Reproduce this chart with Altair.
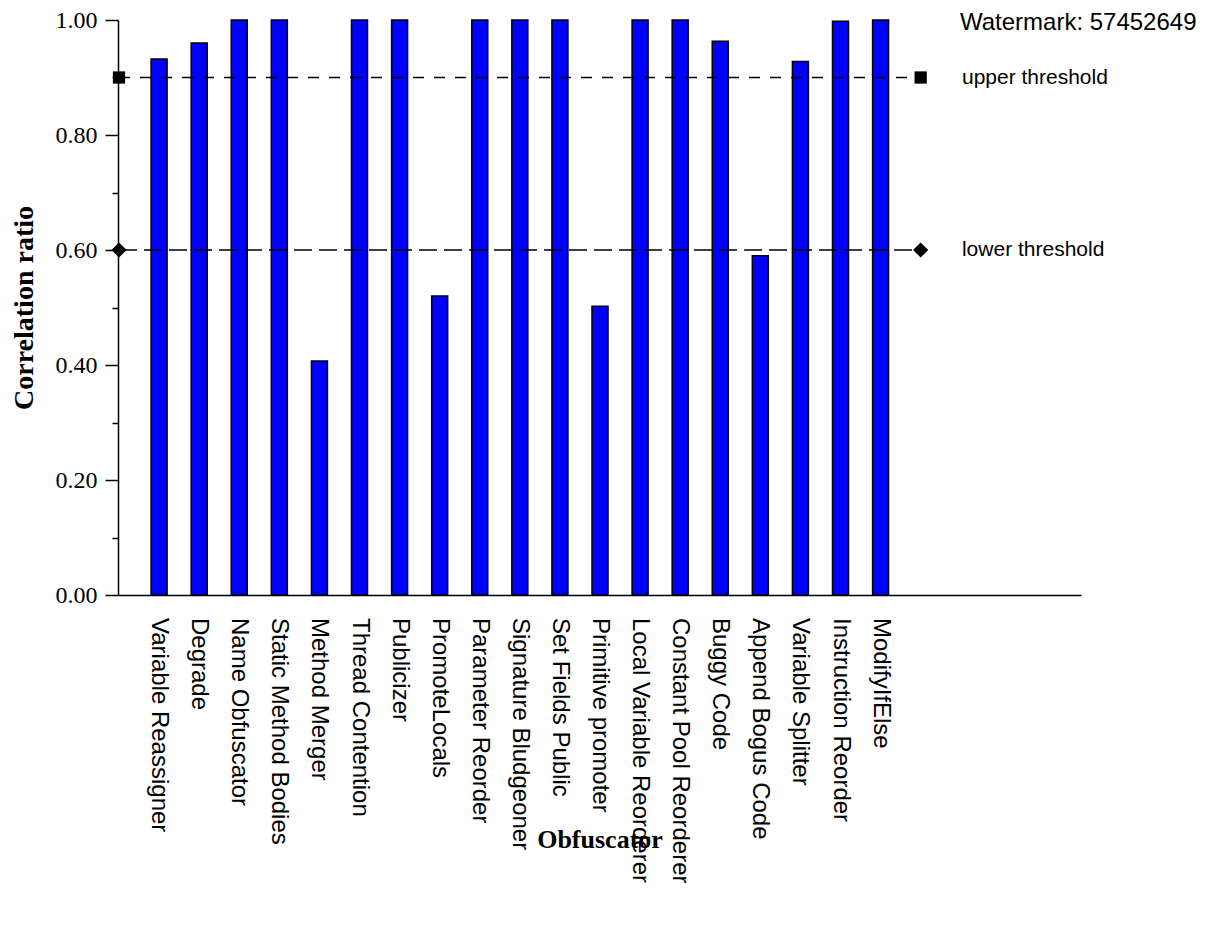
import altair as alt
import pandas as pd

# ---- data ----
obfuscators = [
    "Variable Reassigner", "Degrade", "Name Obfuscator", "Static Method Bodies",
    "Method Merger", "Thread Contention", "Publicizer", "PromoteLocals",
    "Parameter Reorder", "Signature Bludgeoner", "Set Fields Public",
    "Primitive promoter", "Local Variable Reorderer", "Constant Pool Reorderer",
    "Buggy Code", "Append Bogus Code", "Variable Splitter", "Instruction Reorder",
    "ModifyIfElse",
]
correlation = [
    0.932, 0.960, 1.00, 1.00,
    0.407, 1.00, 1.00, 0.520,
    1.00, 1.00, 1.00,
    0.502, 1.00, 1.00,
    0.963, 0.590, 0.928, 0.998,
    1.00,
]
threshold_names = ["upper threshold", "lower threshold"]
threshold_values = [0.90, 0.60]
y_tick_values = [0.0, 0.1, 0.2, 0.3, 0.4, 0.5, 0.6, 0.7, 0.8, 0.9, 1.0]
watermark = "Watermark: 57452649"

# positions along the category axis (index of each obfuscator)
pos = list(range(len(obfuscators)))
line_from = -1
line_to = len(obfuscators)
label_pos = len(obfuscators) + 1.03

bars_df = pd.DataFrame({"pos": pos, "name": obfuscators, "value": correlation,
                        "base": [0.0] * len(pos)})
upper_df = pd.DataFrame({"pos": [line_from], "end": [line_to], "value": [threshold_values[0]]})
lower_df = pd.DataFrame({"pos": [line_from], "end": [line_to], "value": [threshold_values[1]]})
upper_pts = pd.DataFrame({"pos": [line_from, line_to], "value": [threshold_values[0]] * 2})
lower_pts = pd.DataFrame({"pos": [line_from, line_to], "value": [threshold_values[1]] * 2})
lab_df = pd.DataFrame({"pos": [label_pos] * 2, "value": threshold_values, "name": threshold_names})
wm_df = pd.DataFrame({"pos": [len(obfuscators) + 0.98], "value": [0.9955], "name": [watermark]})

xs = alt.Scale(domain=[-1.025, 23], nice=False, zero=False, padding=0)
ys = alt.Scale(domain=[0, 1], nice=False, zero=True, padding=0)

SERIF = "Liberation Serif"
SANS = "Liberation Sans"

X = alt.X("pos:Q", scale=xs,
          axis=alt.Axis(title="Obfuscator", ticks=False, labels=False, grid=False,
                        titleFontSize=26, titlePadding=231))
Y = alt.Y("value:Q", scale=ys,
          axis=alt.Axis(title="Correlation ratio", values=y_tick_values, grid=False,
                        labelExpr="round(datum.value*10) % 2 === 0 ? format(datum.value, '.2f') : ''",
                        tickSize={"condition": {"test": "round(datum.value*10) % 2 === 0", "value": 13}, "value": 6},
                        labelPadding=8, titleFontSize=28, titlePadding=17))

bars = alt.Chart(bars_df).mark_bar(size=16, color="#0000FF", stroke="black",
                                   strokeWidth=1.5).encode(x=X, y=Y, y2="base:Q")

names = alt.Chart(bars_df).mark_text(angle=90, align="left", baseline="middle", dx=23,
                                     font=SANS, fontSize=24, color="black").encode(
    x=X, y=alt.Y("base:Q", scale=ys), text="name:N",
)

upper_rule = alt.Chart(upper_df).mark_rule(color="black", strokeWidth=1.5,
                                           strokeDash=[11, 10]).encode(x=X, x2="end:Q", y=Y)
lower_rule = alt.Chart(lower_df).mark_rule(color="black", strokeWidth=1.5,
                                           strokeDash=[18, 7]).encode(x=X, x2="end:Q", y=Y)

squares = alt.Chart(upper_pts).mark_point(filled=True, color="black", opacity=1,
                                          shape="square", size=150).encode(x=X, y=Y)
diamonds = alt.Chart(lower_pts).mark_point(filled=True, color="black", opacity=1,
                                           shape="diamond", size=230).encode(x=X, y=Y)

thr_labels = alt.Chart(lab_df).mark_text(align="left", baseline="middle", font=SANS,
                                         fontSize=21, color="black").encode(
    x=X, y=Y, text="name:N")

wm = alt.Chart(wm_df).mark_text(align="left", baseline="middle", font=SANS,
                                fontSize=24, color="black").encode(
    x=X, y=Y, text="name:N")

chart = alt.layer(bars, names, upper_rule, lower_rule, squares, diamonds, thr_labels, wm).properties(
    width=963, height=575,
    autosize=alt.AutoSizeParams(type="none"),
    padding={"left": 110, "top": 12, "right": 140, "bottom": 300},
    background="white",
).configure_view(stroke=None).configure_axis(
    domainColor="black", domainWidth=1.5,
    tickColor="black", tickWidth=1.5,
    labelFont=SERIF, labelFontSize=24, labelColor="black",
    titleFont=SERIF, titleFontWeight="bold", titleColor="black",
)

chart.save("out.html", embed_options={"renderer": "svg", "actions": False})
